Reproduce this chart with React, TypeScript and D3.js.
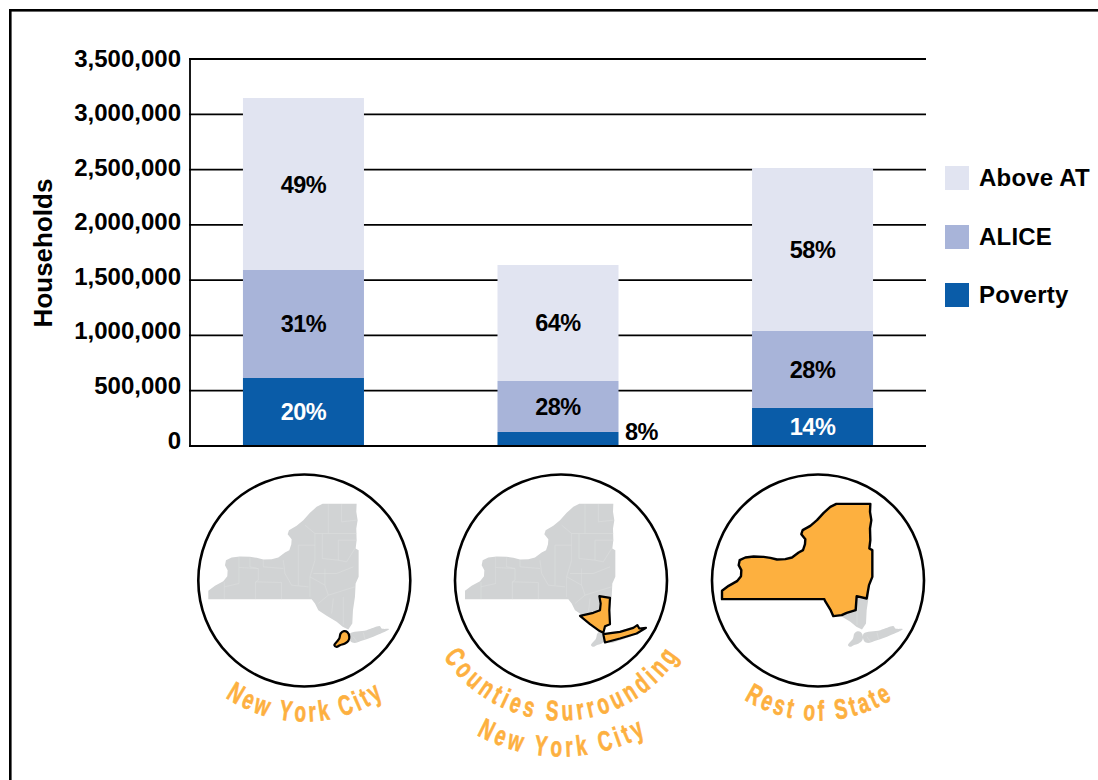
import React from "react";
import * as d3 from "d3";

// Household counts by region and income band
const regions = ["New York City", "Counties Surrounding New York City", "Rest of State"];
const poverty = [615000, 127000, 344000];
const alice = [977000, 461000, 696000];
const aboveAT = [1555000, 1049000, 1474000];
const povertyPct = ["20%", "8%", "14%"];
const alicePct = ["31%", "28%", "28%"];
const abovePct = ["49%", "64%", "58%"];
const yTicks = [0, 500000, 1000000, 1500000, 2000000, 2500000, 3000000, 3500000];
const legendNames = ["Above AT", "ALICE", "Poverty"];

const bandColors = { above: "#e1e4f1", alice: "#a8b4d9", poverty: "#0a5ca8" };
const ORANGE = "#fdb03f";
const GREY = "#d1d3d4";

type Pt = [number, number];

// State outline in map units, with the centre of the locator circle at (343, 331)
const upstateNorth: Pt[] = [
  [55, 387], [55, 362], [75, 347], [100, 333], [112, 318], [113, 300], [105, 285], [108, 270], [125, 262],
  [150, 259], [180, 260], [200, 263], [220, 268], [245, 267], [265, 262], [285, 247], [298, 240], [304, 222],
  [305, 207], [293, 192], [297, 180], [320, 167], [340, 150], [360, 128], [380, 110], [398, 101], [500, 101],
  [499, 125], [503, 150], [499, 175], [500, 210], [497, 235], [506, 240], [506, 320],
];
const hudsonValley: Pt[] = [
  [497, 340], [495, 380], [489, 420], [487, 460], [475, 478], [458, 470], [440, 455], [410, 437], [385, 420],
  [375, 400], [365, 387],
];
const longIsland: Pt[] = [
  [480, 490], [530, 480], [570, 468], [575, 475], [597, 477], [560, 495], [520, 510], [490, 518], [480, 510],
];
const nyc: Pt[] = [
  [433, 525], [440, 515], [448, 505], [452, 490], [462, 483], [472, 486], [478, 500], [475, 512], [465, 520],
  [450, 525], [440, 530],
];
const suburbsNorth: Pt[] = [
  [458, 378], [490, 383], [488, 420], [490, 462], [475, 468], [470, 488], [455, 480], [430, 462], [400, 437],
  [440, 428], [460, 420], [462, 400],
];
const suburbsIsland: Pt[] = [
  [470, 492], [520, 485], [560, 473], [572, 465], [578, 475], [598, 473], [570, 490], [520, 505], [475, 517],
];
const restLower: Pt[] = [
  [496, 345], [489, 385], [459, 378], [456, 420], [429, 428], [414, 435], [389, 438], [381, 420], [364, 392],
  [362, 387],
];
const countyLines: Pt[][] = [
  [[103, 335], [103, 387]], [[147, 260], [147, 340], [103, 350]], [[180, 262], [180, 290], [205, 295], [205, 330], [197, 335], [197, 387]],
  [[147, 292], [205, 295]], [[220, 270], [220, 290], [280, 295]], [[275, 337], [275, 387]], [[197, 335], [275, 337]],
  [[280, 270], [285, 310], [305, 345], [355, 350]], [[325, 225], [325, 345]], [[325, 225], [375, 225]],
  [[345, 165], [375, 190], [375, 270], [360, 320], [360, 380]], [[375, 190], [500, 190]], [[415, 102], [415, 190]],
  [[455, 102], [455, 155], [500, 150]], [[397, 190], [397, 265], [445, 270], [445, 210], [500, 210]],
  [[445, 270], [470, 275], [495, 235]], [[370, 310], [440, 310], [490, 290]], [[405, 295], [405, 345]],
  [[360, 320], [405, 345], [415, 375], [495, 350]], [[415, 375], [385, 400]], [[430, 385], [425, 430]], [[460, 380], [460, 465]],
  [[490, 500], [500, 514]], [[520, 487], [525, 508]],
];

const y = d3.scaleLinear().domain([0, 3500000]).range([446, 59]);
const x = d3.scaleBand<number>().domain([0, 1, 2]).range([190, 926]).paddingInner(0.5246).paddingOuter(0.208);

// Tick captions sit on a slightly tighter ladder than the gridlines
const tickLabelY = d3.scaleLinear().domain([0, 3500000]).range([448.5, 66.5]);

// Map units are three to the screen pixel
const mapX = d3.scaleLinear().domain([343, 346]).range([0, 1]);
const mapY = d3.scaleLinear().domain([331, 334]).range([0, 1]);
const outline = d3.line<Pt>().x((p) => mapX(p[0])).y((p) => mapY(p[1])).curve(d3.curveCatmullRomClosed.alpha(0.5));
const sharp = d3.line<Pt>().x((p) => mapX(p[0])).y((p) => mapY(p[1])).curve(d3.curveLinearClosed);
const polyline = d3.line<Pt>().x((p) => mapX(p[0])).y((p) => mapY(p[1]));

const fullState = sharp([...upstateNorth, ...hudsonValley])!;
const restOfState = sharp([...upstateNorth, ...restLower])!;

const centers = [304.3, 561, 818];
const CY = 580.5;
const R = 106;

const SANS = "'Liberation Sans', Arial, sans-serif";
const CAPTION_SIZE = 28;
const CAPTION_SQUEEZE = 0.68;

const measure = (() => {
  const ctx = document.createElement("canvas").getContext("2d")!;
  ctx.font = `700 ${CAPTION_SIZE}px 'Liberation Sans'`;
  return (s: string) => ctx.measureText(s).width;
})();

// Sets a caption along the underside of a circle, one squeezed glyph at a time
function CurvedCaption({ text, r, track }: { text: string; r: number; track: number }) {
  const chars = Array.from(text);
  const advances = chars.map((c) => measure(c) * CAPTION_SQUEEZE + track);
  const total = d3.sum(advances) - track;
  const starts = advances.map((_, i) => -total / 2 + d3.sum(advances.slice(0, i)));
  return (
    <g fontFamily={SANS} fontWeight={700} fontSize={CAPTION_SIZE} fill={ORANGE} stroke={ORANGE} strokeWidth={0.7}>
      {chars.map((c, i) => {
        const phi = (starts[i] + (advances[i] - track) / 2) / r;
        const deg = (phi * 180) / Math.PI;
        return c === " " ? null : (
          <text
            key={i}
            textAnchor="middle"
            transform={`translate(${r * Math.sin(phi)},${r * Math.cos(phi)}) rotate(${-deg}) scale(${CAPTION_SQUEEZE},1)`}
          >
            {c}
          </text>
        );
      })}
    </g>
  );
}

function Locator({ index }: { index: number }) {
  return (
    <g transform={`translate(${centers[index]},${CY})`}>
      <circle r={R} fill="#fff" stroke="#000" strokeWidth={2.6} />
      <path d={fullState} fill={GREY} />
      <path d={outline(longIsland)!} fill={GREY} />
      {countyLines.map((l, i) => (
        <path key={i} d={polyline(l)!} fill="none" stroke="#dfe0e1" strokeWidth={0.5} />
      ))}
      {index === 0 && <path d={outline(nyc)!} fill={ORANGE} stroke="#000" strokeWidth={2.2} strokeLinejoin="round" />}
      {index !== 0 && <path d={outline(nyc)!} fill={GREY} />}
      {index === 1 && (
        <>
          <path d={sharp(suburbsNorth)!} fill={ORANGE} stroke="#000" strokeWidth={2.2} strokeLinejoin="round" />
          <path d={sharp(suburbsIsland)!} fill={ORANGE} stroke="#000" strokeWidth={2.2} strokeLinejoin="round" />
        </>
      )}
      {index === 2 && <path d={restOfState} fill={ORANGE} stroke="#000" strokeWidth={2.4} strokeLinejoin="round" />}
    </g>
  );
}

export default function App() {
  const bandRows = [
    { key: "poverty", color: bandColors.poverty, values: poverty, labels: povertyPct, ink: "#fff" },
    { key: "alice", color: bandColors.alice, values: alice, labels: alicePct, ink: "#000" },
    { key: "above", color: bandColors.above, values: aboveAT, labels: abovePct, ink: "#000" },
  ];
  return (
    <svg width={1098} height={780} style={{ position: "absolute", left: 0, top: 0, display: "block" }}>
      <rect width={1098} height={780} fill="#fff" />
      <rect x={10.3} y={10.3} width={1300} height={1000} fill="none" stroke="#000" strokeWidth={2.6} />

      {yTicks.map((t) => (
        <g key={t}>
          <line x1={189} x2={926} y1={y(t)} y2={y(t)} stroke="#000" strokeWidth={1.8} />
          <text x={181} y={tickLabelY(t)} textAnchor="end" fontFamily={SANS} fontWeight={700} fontSize={24} fill="#000">
            {d3.format(",")(t)}
          </text>
        </g>
      ))}
      <line x1={190} x2={190} y1={58} y2={447} stroke="#000" strokeWidth={1.8} />
      <text
        transform="translate(52,253) rotate(-90)"
        textAnchor="middle"
        fontFamily={SANS}
        fontWeight={700}
        fontSize={26}
        fill="#000"
      >
        Households
      </text>

      {regions.map((region, i) => {
        let base = 0;
        return (
          <g key={region}>
            {bandRows.map((b) => {
              const y0 = y(base);
              base += b.values[i];
              const y1 = y(base);
              const offChart = b.key === "poverty" && i === 1;
              return (
                <g key={b.key}>
                  <rect x={x(i)!} y={y1} width={x.bandwidth()} height={y0 - y1} fill={b.color} />
                  <text
                    x={offChart ? x(i)! + x.bandwidth() + 23 : x(i)! + x.bandwidth() / 2}
                    y={offChart ? 440 : (y0 + y1) / 2 + 8.5}
                    textAnchor="middle"
                    fontFamily={SANS}
                    fontWeight={700}
                    fontSize={23.5}
                    letterSpacing={-0.5}
                    fill={offChart ? "#000" : b.ink}
                  >
                    {b.labels[i]}
                  </text>
                </g>
              );
            })}
          </g>
        );
      })}
      <line x1={189} x2={926} y1={y(0)} y2={y(0)} stroke="#000" strokeWidth={1.8} />

      {legendNames.map((name, i) => {
        const swatch = [bandColors.above, bandColors.alice, bandColors.poverty][i];
        const top = [166, 225, 283][i];
        return (
          <g key={name}>
            <rect x={945} y={top} width={24} height={24} fill={swatch} />
            <text x={979} y={top + 20} fontFamily={SANS} fontWeight={700} fontSize={24} letterSpacing={0.2} fill="#000">{name}</text>
          </g>
        );
      })}

      {[0, 1, 2].map((i) => <Locator key={i} index={i} />)}

      <g transform={`translate(${centers[0]},${CY})`}><CurvedCaption text="New York City" r={141} track={3.3} /></g>
      <g transform={`translate(${centers[1]},${CY})`}>
        <CurvedCaption text="Counties Surrounding" r={140} track={4.1} />
        <CurvedCaption text="New York City" r={176} track={4} />
      </g>
      <g transform={`translate(${centers[2]},${CY})`}><CurvedCaption text="Rest of State" r={140} track={3.3} /></g>
    </svg>
  );
}
